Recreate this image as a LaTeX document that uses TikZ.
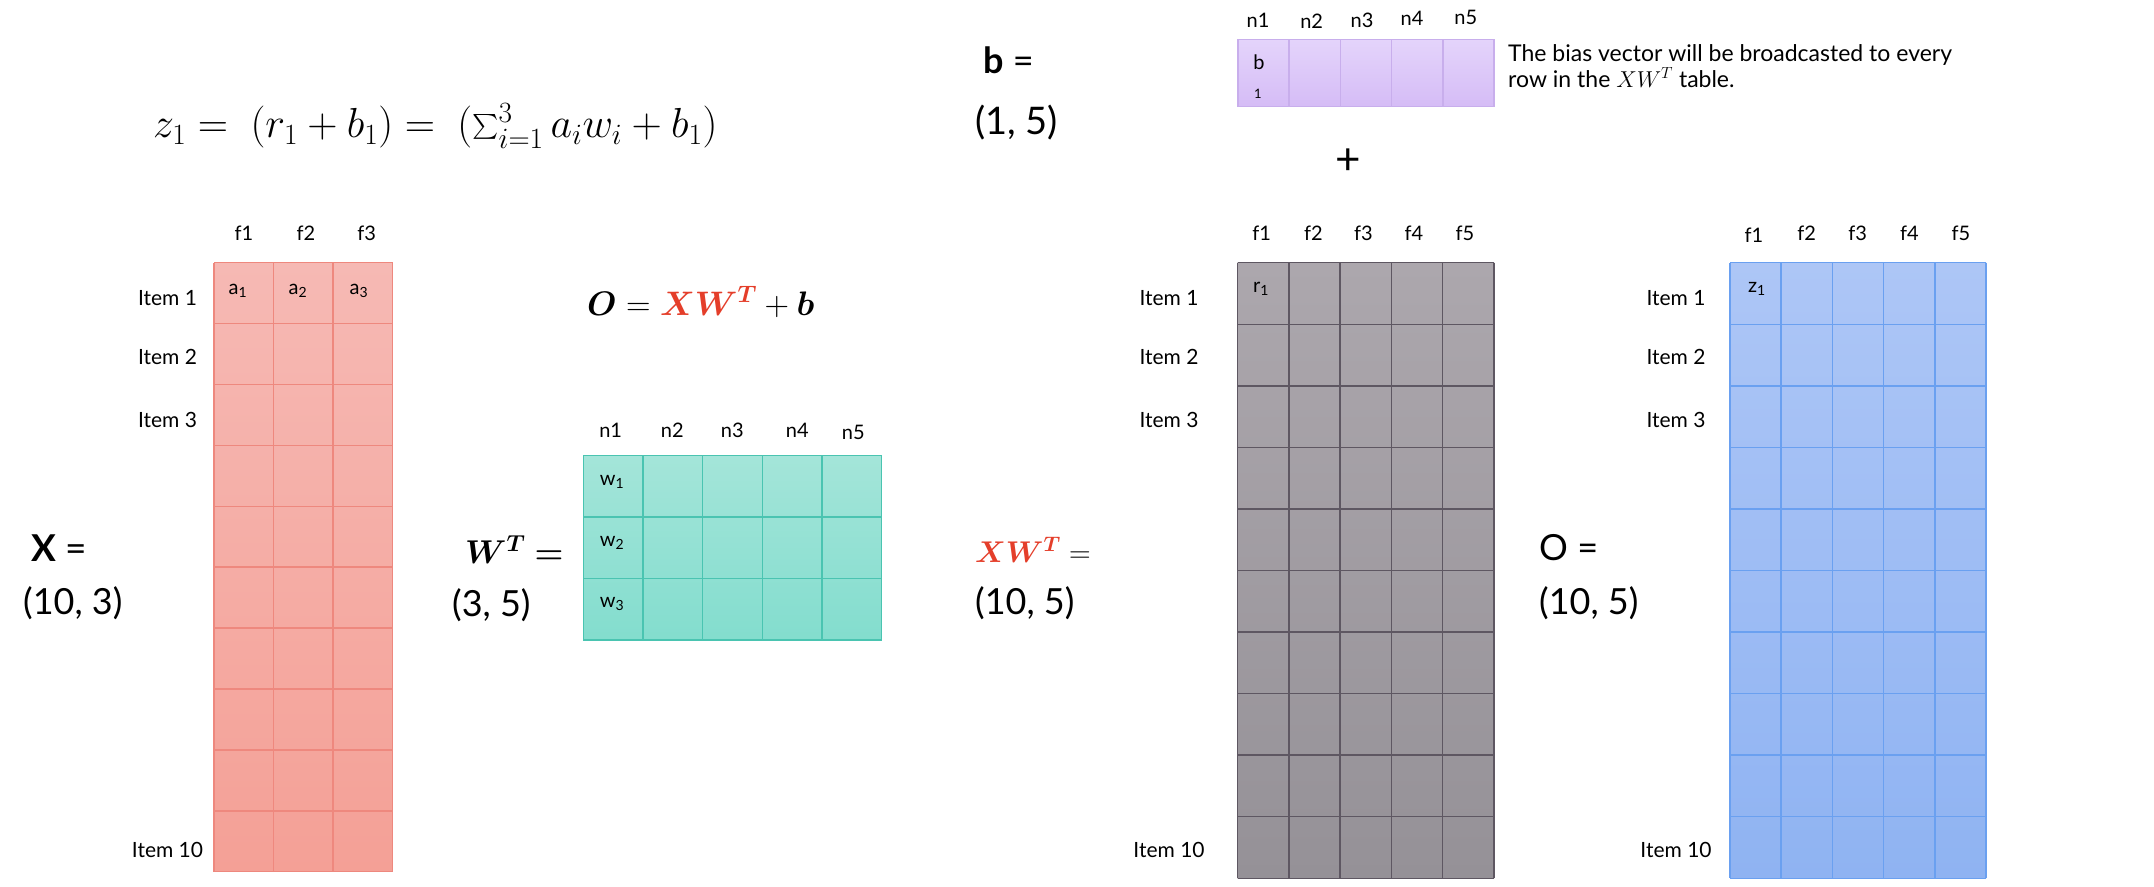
\RequirePackage{fix-cm}
\documentclass[tikz,border=0pt]{standalone}
\usepackage{amsmath,bm}
\usepackage[no-math]{fontspec}
\setmainfont{Lato}
\usetikzlibrary{positioning,calc}
\definecolor{xTop}{RGB}{246,185,180}
\definecolor{xBot}{RGB}{244,160,150}
\definecolor{xLine}{RGB}{238,136,126}
\definecolor{wTop}{RGB}{164,229,217}
\definecolor{wBot}{RGB}{131,221,206}
\definecolor{wLine}{RGB}{74,196,177}
\definecolor{bTop}{RGB}{228,212,251}
\definecolor{bBot}{RGB}{213,188,246}
\definecolor{bLine}{RGB}{200,174,236}
\definecolor{gTop}{RGB}{172,167,173}
\definecolor{gBot}{RGB}{149,145,151}
\definecolor{gLine}{RGB}{94,87,98}
\definecolor{oTop}{RGB}{173,198,246}
\definecolor{oBot}{RGB}{143,179,242}
\definecolor{oLine}{RGB}{106,160,240}
\definecolor{mRed}{RGB}{228,62,42}

% grid of a table node: node, columns, rows, line style
\newcommand{\tablegrid}[4]{%
  \foreach \c in {0,...,#2}
    \draw[#4] ($(#1.north west)!\c/#2!(#1.north east)$) -- ($(#1.south west)!\c/#2!(#1.south east)$);
  \foreach \r in {0,...,#3}
    \draw[#4] ($(#1.north west)!\r/#3!(#1.south west)$) -- ($(#1.north east)!\r/#3!(#1.south east)$);
}

\begin{document}
\begin{tikzpicture}[
    x=1pt, y=-1pt,
    item/.style={font=\fontsize{21}{25}\selectfont, inner sep=0},
    head/.style={font=\fontsize{20}{24}\selectfont, inner sep=0},
    entry/.style={font=\fontsize{20}{24}\selectfont, inner sep=0},
    dims/.style={font=\fontsize{36}{42}\selectfont, anchor=west, inner sep=0},
    tab/.style={inner sep=0, outer sep=0, anchor=north west}
  ]
    \useasboundingbox (0,0) rectangle (2154,886);

    % formulas
    \node[anchor=west, inner sep=0, font=\fontsize{42}{48}\selectfont] (zeq) at (153,126)
      {$z_1 = \ (r_1 + b_1) = \ (\sum_{i=1}^{3} a_i w_i + b_1)$};
    \node[anchor=west, inner sep=0, font=\fontsize{34}{40}\selectfont] (oeq) at (587,302)
      {$\bm{O} = {\color{mRed}\bm{XW^{T}}} + \bm{b}$};

    % shape labels
    \node[dims, font=\fontsize{37}{42}\selectfont] (xname) at (31,548) {\textbf{X} =};
    \node[dims] (xdim) at (23,603) {(10, 3)};
    \node[dims, font=\fontsize{33}{40}\selectfont] (wname) at (465,550) {$\bm{W^{T}} \bm{=}$};
    \node[dims] (wdim) at (452,605) {(3, 5)};
    \node[dims, font=\fontsize{30}{36}\selectfont] (xwname) at (975,550) {${\color{mRed}\bm{XW^{T}}} =$};
    \node[dims] (xwdim) at (975,603) {(10, 5)};
    \node[dims] (oname) at (1539,548) {O =};
    \node[dims] (odim) at (1539,603) {(10, 5)};
    \node[dims] (bname) at (983,60) {\textbf{b} =};
    \node[dims, font=\fontsize{38}{44}\selectfont] (bdim) at (975,123) {(1, 5)};

    % tables
    \node[tab, minimum width=178.7, minimum height=609, top color=xTop, bottom color=xBot] (X) at (214,262.7) {};
    \tablegrid{X}{3}{10}{xLine, line width=1.5}
    \node[tab, minimum width=298.4, minimum height=184.7, top color=wTop, bottom color=wBot] (W) at (583.3,455.3) {};
    \tablegrid{W}{5}{3}{wLine, line width=1.5}
    \node[tab, minimum width=256, minimum height=67.4, top color=bTop, bottom color=bBot] (B) at (1238,39.3) {};
    \tablegrid{B}{5}{1}{bLine, line width=1.5}
    \node[tab, minimum width=256.5, minimum height=615.6, top color=gTop, bottom color=gBot] (XW) at (1237.5,262.7) {};
    \tablegrid{XW}{5}{10}{gLine, line width=1.5}
    \node[tab, minimum width=256, minimum height=615.6, top color=oTop, bottom color=oBot] (O) at (1730,262.7) {};
    \tablegrid{O}{5}{10}{oLine, line width=1.5}

    % column headers
    \foreach \t/\x in {f1/244, f2/306, f3/366.7}
      \node[head] (xh\t) at (\x,233) {\t};
    \foreach \t/\x/\y in {n1/610.7/430, n2/672.3/430, n3/732.3/430, n4/797.3/430, n5/853.3/432}
      \node[head] (wh\t) at (\x,\y) {\t};
    \foreach \t/\x/\y in {n1/1258/20, n2/1311.7/21, n3/1362/20, n4/1412/18, n5/1465.7/17}
      \node[head] (bh\t) at (\x,\y) {\t};
    \foreach \t/\x in {f1/1261.7, f2/1313.3, f3/1363.3, f4/1414, f5/1465}
      \node[head] (gh\t) at (\x,233) {\t};
    \foreach \t/\x/\y in {f1/1754/235, f2/1806.7/233, f3/1857.7/233, f4/1909.3/233, f5/1961/233}
      \node[head] (oh\t) at (\x,\y) {\t};

    % row labels
    \foreach \n/\y in {1/298, 2/357, 3/420, 10/850} {
      \node[item] (xi\n) at (167.5,\y) {Item \n};
      \node[item] (gi\n) at (1169,\y) {Item \n};
      \node[item] (oi\n) at (1676,\y) {Item \n};
    }

    % cell entries
    \foreach \k/\x in {1/238, 2/298, 3/359}
      \node[entry] (a\k) at (\x,291) {a\textsubscript{\k}};
    \foreach \k/\y in {1/482, 2/543, 3/604}
      \node[entry] (w\k) at (612,\y) {w\textsubscript{\k}};
    \node[entry] (r1) at (1261,289) {r\textsubscript{1}};
    \node[entry] (z1) at (1757,289) {z\textsubscript{1}};
    \node[entry] (bb) at (1259,62) {b};
    \node[entry, font=\fontsize{13}{15}\selectfont] (bone) at (1258,94) {1};

    % broadcasting note
    \node[anchor=north west, align=left, inner sep=0, font=\fontsize{23}{26}\selectfont] (note) at (1508,44)
      {The bias vector will be broadcasted to every\\row in the $XW^{T}$ table.};
    \node[inner sep=0, font=\fontsize{44}{48}\selectfont] (plus) at (1348,162) {+};
  \end{tikzpicture}
\end{document}
